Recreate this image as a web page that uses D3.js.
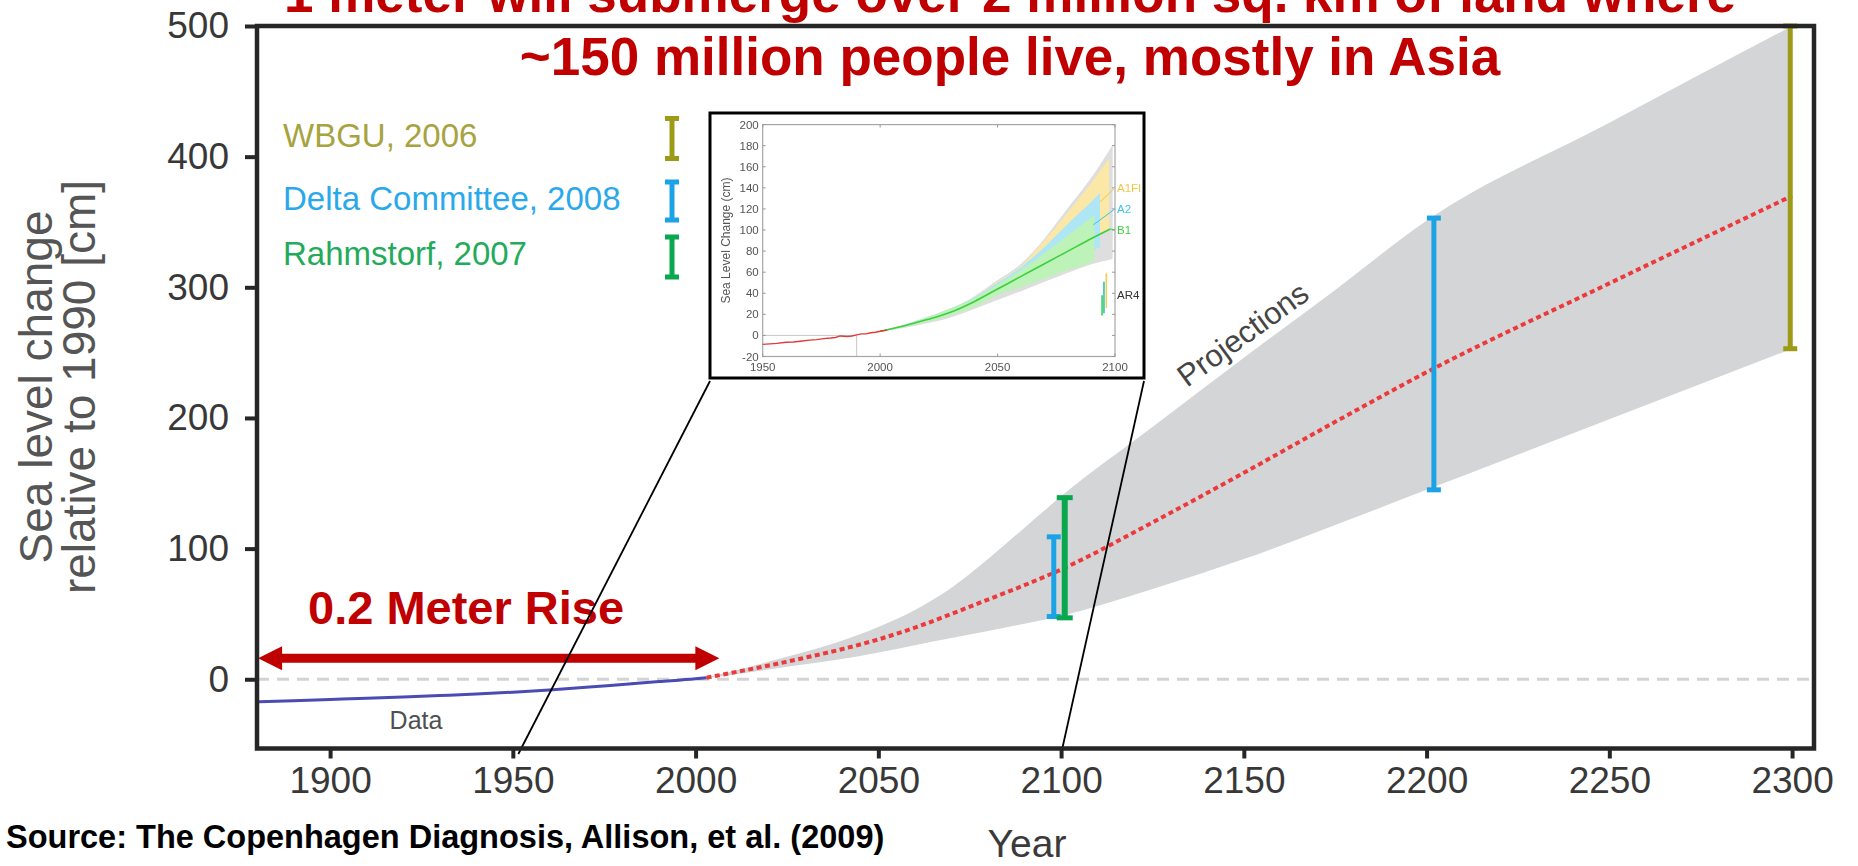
<!DOCTYPE html>
<html>
<head>
<meta charset="utf-8">
<script src="https://cdn.jsdelivr.net/npm/d3@7"></script>
<style>
  html, body { margin: 0; padding: 0; background: #fff; }
  svg { display: block; }
  text { font-family: "Liberation Sans", Arial, Helvetica, sans-serif; }
</style>
</head>
<body>
<svg id="chart" width="1858" height="866"></svg>
<script>
// ---------- main chart data (cm relative to 1990) ----------
const dataYears  = [1880, 1890, 1900, 1910, 1920, 1930, 1940, 1950, 1960, 1970, 1980, 1990, 2000, 2003];
const dataLevels = [-17.2, -16.4, -15.5, -14.6, -13.6, -12.5, -11.3, -9.9, -8.2, -6.2, -4.0, -1.8, 0.4, 1.2];

const projYears  = [2003, 2010, 2020, 2030, 2040, 2050, 2060, 2070, 2080, 2090, 2100, 2125, 2150, 2175, 2200, 2250, 2300];
const projMedian = [1.2, 5, 10.5, 16.5, 23, 30.5, 39.5, 50, 61, 72, 84, 120, 158, 197, 235, 303, 370];
const projUpper  = [1.4, 6, 13.5, 21, 29.5, 40, 53, 70, 92, 116, 140, 193, 246, 298, 351, 426, 500];
const projLower  = [1.0, 3.5, 7.5, 11.5, 15.5, 20.5, 26, 31.5, 37, 42.5, 48.5, 69, 92, 118, 145, 199, 253];

// published estimates
const estimateNames      = ["WBGU, 2006", "Delta Committee, 2008", "Rahmstorf, 2007"];
const estimateColors     = ["#9d9b16", "#1ca3e6", "#0aa84e"];
const estimateTextColors = ["#a7a33f", "#2aa9ea", "#23aa5b"];
const rangeSource = [1, 2, 1, 0];
const rangeYears  = [2098, 2101, 2202, 2299.5];
const rangeLow    = [48, 47, 145, 253];
const rangeHigh   = [109, 139, 353, 500];

const yTicks = [0, 100, 200, 300, 400, 500];
const xTicks = [1900, 1950, 2000, 2050, 2100, 2150, 2200, 2250, 2300];

// ---------- inset data (Sea Level Change, cm) ----------
const insetObsYears = [1950, 1953, 1956, 1960, 1963, 1966, 1970, 1973, 1976, 1979, 1981, 1983, 1986, 1988, 1990, 1992, 1994, 1996, 1998, 2000, 2003];
const insetObsVals  = [-8.5, -8, -7.5, -6.5, -6.2, -5.5, -4.5, -4, -3, -2.5, -2, -0.5, -1, -0.5, 0.5, 1.5, 1.5, 2.5, 3, 4, 5];

const insetGrayYears  = [2000, 2010, 2020, 2030, 2040, 2050, 2060, 2070, 2080, 2090, 2099];
const insetGrayUpper  = [4, 9, 16, 25, 37, 52.5, 68, 92, 121, 150, 181];
const insetGrayLower  = [3.5, 7, 11.5, 17, 25, 33.5, 42, 51, 59.5, 67.5, 72.5];

const insetA1FIYears  = [2000, 2010, 2020, 2030, 2040, 2050, 2060, 2070, 2080, 2090, 2097.5];
const insetA1FIUpper  = [4.5, 10, 17.5, 26, 36, 51, 66, 90, 117, 145, 168];
const insetA1FILower  = [3.5, 8, 13, 19, 27, 38, 48, 60, 75, 92, 100];

const insetA2Years    = [2000, 2010, 2020, 2030, 2040, 2050, 2060, 2070, 2080, 2090, 2093.6];
const insetA2Upper    = [4.5, 10, 17.5, 25.5, 36, 50, 65, 84, 106, 127, 135];
const insetA2Lower    = [3.5, 8, 13, 19, 27, 38, 47, 56, 66, 80, 84];

const insetB1Years    = [2000, 2010, 2020, 2030, 2040, 2050, 2060, 2070, 2080, 2090, 2091.2];
const insetB1Upper    = [4.5, 10, 17, 25, 35, 48, 62, 78, 95, 112, 114];
const insetB1Lower    = [3.5, 8, 13, 19, 27, 38, 46, 54, 62, 70, 71.5];

const insetB1LineYears = [2000, 2010, 2020, 2030, 2040, 2050, 2060, 2070, 2080, 2090, 2098];
const insetB1LineVals  = [4, 9, 15, 22, 32, 44, 56, 68, 80, 92, 101];

const ar4Years  = [2094.5, 2095.3, 2096.3];
const ar4Low    = [19, 21, 26];
const ar4High   = [38, 51, 59];
const ar4Colors = ["#3fd24a", "#2cc0c8", "#f2cf50"];

const insetYTicks = d3.range(-20, 201, 20);
const insetXTicks = [1950, 2000, 2050, 2100];

// ---------- setup ----------
const svg = d3.select("#chart");
const FONT = '"Liberation Sans", Arial, Helvetica, sans-serif';
const RED = "#c00000";

const x = d3.scaleLinear().domain([1880, 2306]).range([257, 1814]);
const y = d3.scaleLinear().domain([-53, 500]).range([748.5, 26]);

const zip = (xs, ...cols) => xs.map((v, i) => [v, ...cols.map(c => c[i])]);

const defs = svg.append("defs");
defs.append("clipPath").attr("id", "plotClip")
  .append("rect")
  .attr("x", x(1880)).attr("y", y(500))
  .attr("width", x(2306) - x(1880)).attr("height", y(-53) - y(500));
defs.append("filter").attr("id", "soft")
  .append("feGaussianBlur").attr("stdDeviation", 0.35);

const plot = svg.append("g").attr("clip-path", "url(#plotClip)");

// projection envelope
plot.append("path")
  .datum(zip(projYears, projLower, projUpper))
  .attr("fill", "#d4d5d7")
  .attr("d", d3.area()
    .x(d => x(d[0])).y0(d => y(d[1])).y1(d => y(d[2]))
    .curve(d3.curveMonotoneX));

// zero reference
plot.append("line")
  .attr("x1", x(1880)).attr("x2", x(2306))
  .attr("y1", y(0)).attr("y2", y(0))
  .attr("stroke", "#d3d3d3").attr("stroke-width", 3)
  .attr("stroke-dasharray", "12,8");

// observed record
plot.append("path")
  .datum(zip(dataYears, dataLevels))
  .attr("fill", "none").attr("stroke", "#4a4cb3").attr("stroke-width", 3)
  .attr("d", d3.line().x(d => x(d[0])).y(d => y(d[1])).curve(d3.curveMonotoneX));

// central projection
plot.append("path")
  .datum(zip(projYears, projMedian))
  .attr("fill", "none").attr("stroke", "#ec3a3c").attr("stroke-width", 4)
  .attr("stroke-dasharray", "5,3.5")
  .attr("d", d3.line().x(d => x(d[0])).y(d => y(d[1])).curve(d3.curveMonotoneX));

// range bars
function rangeBar(g, cx, y0, y1, color, stem, capW) {
  g.append("line").attr("x1", cx).attr("x2", cx).attr("y1", y0).attr("y2", y1)
    .attr("stroke", color).attr("stroke-width", stem);
  [y0, y1].forEach(yy => g.append("rect")
    .attr("x", cx - capW / 2).attr("y", yy - 2.5)
    .attr("width", capW).attr("height", 5).attr("fill", color));
}
const bars = svg.append("g");
rangeYears.forEach((yr, i) => {
  const c = estimateColors[rangeSource[i]];
  rangeBar(bars, x(yr), y(rangeLow[i]), y(rangeHigh[i]), c,
    rangeSource[i] === 2 ? 6 : 5, rangeSource[i] === 2 ? 16 : 14);
});

// legend
const legend = svg.append("g");
estimateNames.forEach((name, i) => {
  const base = [146.5, 210, 265][i];
  legend.append("text")
    .attr("x", 283).attr("y", base)
    .attr("font-size", 33).attr("fill", estimateTextColors[i])
    .text(name);
  rangeBar(legend, 672, base - 28, base + 12 - (i === 1 ? 2 : 0), estimateColors[i], 5, 14);
});

// "0.2 Meter Rise" arrow
const riseSpan = [1880.3, 2006.5];
const riseLevel = 16;
{
  const a0 = x(riseSpan[0]), a1 = x(riseSpan[1]), ay = y(riseLevel);
  const hl = 24, hh = 12, sh = 4.5;
  svg.append("path").attr("fill", RED).attr("d",
    `M${a0},${ay} L${a0 + hl},${ay - hh} L${a0 + hl},${ay - sh} L${a1 - hl},${ay - sh}
     L${a1 - hl},${ay - hh} L${a1},${ay} L${a1 - hl},${ay + hh} L${a1 - hl},${ay + sh}
     L${a0 + hl},${ay + sh} L${a0 + hl},${ay + hh} Z`);
}
svg.append("text")
  .attr("x", 308).attr("y", 624)
  .attr("font-size", 47).attr("font-weight", "bold").attr("fill", RED)
  .text("0.2 Meter Rise");

// labels inside plot
svg.append("text")
  .attr("x", x(1923.5)).attr("y", 729)
  .attr("text-anchor", "middle").attr("font-size", 25).attr("fill", "#505050")
  .text("Data");

svg.append("text")
  .attr("transform", "translate(1187,388) rotate(-36)")
  .attr("font-size", 31).attr("fill", "#454545")
  .text("Projections");

// ---------- inset ----------
const ix = d3.scaleLinear().domain([1950, 2100]).range([762.7, 1115]);
const iy = d3.scaleLinear().domain([-20, 200]).range([356.5, 124.6]);

// zoom connector lines
const connectorYears = [1951.5, 2100];
[[710, connectorYears[0]], [1144, connectorYears[1]]].forEach(([sx, yr]) => {
  svg.append("line")
    .attr("x1", sx).attr("y1", 381)
    .attr("x2", x(yr)).attr("y2", 754)
    .attr("stroke", "#000").attr("stroke-width", 1.8);
});

const inset = svg.append("g");
inset.append("rect")
  .attr("x", 710).attr("y", 113).attr("width", 434).attr("height", 265)
  .attr("fill", "#fff").attr("stroke", "#000").attr("stroke-width", 3);

const ip = inset.append("g").attr("filter", "url(#soft)");

const bandArea = d3.area().x(d => ix(d[0])).y0(d => iy(d[1])).y1(d => iy(d[2])).curve(d3.curveMonotoneX);
[
  [insetGrayYears, insetGrayLower, insetGrayUpper, "#dedede"],
  [insetA1FIYears, insetA1FILower, insetA1FIUpper, "#fbe7a6"],
  [insetA2Years, insetA2Lower, insetA2Upper, "#aee6f6"],
  [insetB1Years, insetB1Lower, insetB1Upper, "#bdf2b8"]
].forEach(([yrs, lo, hi, col]) => {
  ip.append("path").datum(zip(yrs, lo, hi)).attr("fill", col).attr("d", bandArea);
});

// reference lines at 1990 baseline
ip.append("line").attr("x1", ix(1950)).attr("x2", ix(1990)).attr("y1", iy(0)).attr("y2", iy(0))
  .attr("stroke", "#c8c8c8").attr("stroke-width", 1);
ip.append("line").attr("x1", ix(1990)).attr("x2", ix(1990)).attr("y1", iy(-20)).attr("y2", iy(0))
  .attr("stroke", "#c8c8c8").attr("stroke-width", 1);

// frame and ticks
ip.append("rect")
  .attr("x", ix(1950)).attr("y", iy(200))
  .attr("width", ix(2100) - ix(1950)).attr("height", iy(-20) - iy(200))
  .attr("fill", "none").attr("stroke", "#a6a6a6").attr("stroke-width", 1.2);
insetYTicks.forEach(v => {
  ip.append("line").attr("x1", ix(1950)).attr("x2", ix(1950) + 3).attr("y1", iy(v)).attr("y2", iy(v))
    .attr("stroke", "#999");
  ip.append("line").attr("x1", ix(2100) - 3).attr("x2", ix(2100)).attr("y1", iy(v)).attr("y2", iy(v))
    .attr("stroke", "#999");
});
insetXTicks.forEach(v => {
  ip.append("line").attr("x1", ix(v)).attr("x2", ix(v)).attr("y1", iy(-20)).attr("y2", iy(-20) - 3)
    .attr("stroke", "#999");
  ip.append("line").attr("x1", ix(v)).attr("x2", ix(v)).attr("y1", iy(200)).attr("y2", iy(200) + 3)
    .attr("stroke", "#999");
});

// B1 central line and observations
ip.append("path").datum(zip(insetB1LineYears, insetB1LineVals))
  .attr("fill", "none").attr("stroke", "#3ccf3c").attr("stroke-width", 1.6)
  .attr("d", d3.line().x(d => ix(d[0])).y(d => iy(d[1])).curve(d3.curveMonotoneX));
ip.append("path").datum(zip(insetObsYears, insetObsVals))
  .attr("fill", "none").attr("stroke", "#e0393c").attr("stroke-width", 1.4)
  .attr("d", d3.line().x(d => ix(d[0])).y(d => iy(d[1])));

// AR4 ranges
ar4Years.forEach((yr, i) => {
  ip.append("line").attr("x1", ix(yr)).attr("x2", ix(yr)).attr("y1", iy(ar4Low[i])).attr("y2", iy(ar4High[i]))
    .attr("stroke", ar4Colors[i]).attr("stroke-width", 1.6);
});

// scenario labels with leaders
const scenarioNames  = ["A1FI", "A2", "B1", "AR4"];
const scenarioColors = ["#f0c64a", "#3cc4e6", "#3fcf3f", "#333"];
const scenarioLabelY = [140, 120, 100, 38];
const scenarioLeadFrom = [[2093.8, 127], [2090.8, 105], [2098, 101], null];
scenarioNames.forEach((n, i) => {
  if (scenarioLeadFrom[i]) {
    ip.append("line")
      .attr("x1", ix(scenarioLeadFrom[i][0])).attr("y1", iy(scenarioLeadFrom[i][1]))
      .attr("x2", ix(2100)).attr("y2", iy(scenarioLabelY[i]))
      .attr("stroke", scenarioColors[i]).attr("stroke-width", 1);
  }
  ip.append("text")
    .attr("x", ix(2100) + 2).attr("y", iy(scenarioLabelY[i]))
    .attr("dy", "0.35em").attr("font-size", 11.5).attr("fill", scenarioColors[i])
    .text(n);
});

// inset tick labels
insetYTicks.forEach(v => {
  ip.append("text").attr("x", ix(1950) - 4).attr("y", iy(v)).attr("dy", "0.35em")
    .attr("text-anchor", "end").attr("font-size", 11.5).attr("fill", "#555").text(v);
});
insetXTicks.forEach(v => {
  ip.append("text").attr("x", ix(v)).attr("y", 371)
    .attr("text-anchor", "middle").attr("font-size", 11.5).attr("fill", "#555").text(v);
});
ip.append("text")
  .attr("transform", `translate(730,${(iy(200) + iy(-20)) / 2}) rotate(-90)`)
  .attr("text-anchor", "middle").attr("font-size", 12).attr("fill", "#555")
  .text("Sea Level Change (cm)");

// ---------- frame and axes ----------
svg.append("rect")
  .attr("x", x(1880)).attr("y", y(500))
  .attr("width", x(2306) - x(1880)).attr("height", y(-53) - y(500))
  .attr("fill", "none").attr("stroke", "#262626").attr("stroke-width", 4.5);

const yAxis = svg.append("g")
  .attr("transform", `translate(${x(1880)},0)`)
  .call(d3.axisLeft(y).tickValues(yTicks).tickSize(12).tickPadding(16).tickFormat(d3.format("d")));
const xAxis = svg.append("g")
  .attr("transform", `translate(0,${y(-53)})`)
  .call(d3.axisBottom(x).tickValues(xTicks).tickSize(10).tickPadding(8).tickFormat(d3.format("d")));
[yAxis, xAxis].forEach(a => {
  a.select(".domain").remove();
  a.selectAll(".tick line").attr("stroke", "#262626").attr("stroke-width", 4);
  a.selectAll(".tick text").attr("font-size", 37).attr("fill", "#383838").attr("font-family", FONT);
});

// axis titles
const yTitle = svg.append("g").attr("fill", "#555").attr("font-size", 46);
yTitle.append("text")
  .attr("transform", "translate(52,387) rotate(-90)")
  .attr("text-anchor", "middle").text("Sea level change");
yTitle.append("text")
  .attr("transform", "translate(95,387) rotate(-90)")
  .attr("text-anchor", "middle").text("relative to 1990 [cm]");

svg.append("text")
  .attr("x", 1027).attr("y", 857)
  .attr("text-anchor", "middle").attr("font-size", 39).attr("fill", "#3a3a3a")
  .text("Year");

// headline
const titleLines = ["1 meter will submerge over 2 million sq. km of land where",
                    "~150 million people live, mostly in Asia"];
titleLines.forEach((t, i) => {
  svg.append("text")
    .attr("x", 1010).attr("y", 12 + i * 63)
    .attr("text-anchor", "middle").attr("font-size", 53).attr("font-weight", "bold").attr("fill", RED)
    .text(t);
});

// source
svg.append("text")
  .attr("x", 6).attr("y", 848)
  .attr("font-size", 32.5).attr("font-weight", "bold").attr("fill", "#000")
  .text("Source: The Copenhagen Diagnosis, Allison, et al. (2009)");
</script>
</body>
</html>
